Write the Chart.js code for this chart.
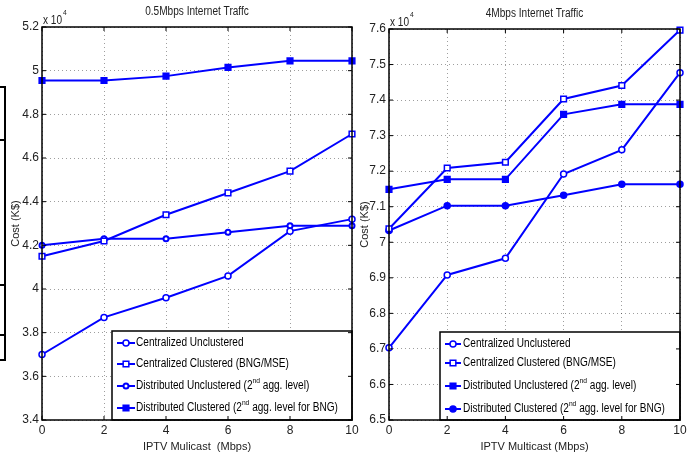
<!DOCTYPE html>
<html>
<head>
<meta charset="utf-8">
<script src="https://cdn.jsdelivr.net/npm/chart.js@4.4.1/dist/chart.umd.min.js"></script>
<style>
    html, body { margin: 0; padding: 0; background: #fff; }
    #wrap { position: relative; width: 696px; height: 457px; overflow: hidden; }
    #lowChart { position: absolute; left: 0; top: 0; }
    #highChart { position: absolute; left: 356px; top: 0; }
    .edge { position: absolute; background: #000; }
</style>
</head>
<body>
<div id="wrap">
    <!-- piece of a neighbouring figure cut off at the left edge -->
    <div class="edge" style="left:4px;top:86px;width:2px;height:275px"></div>
    <div class="edge" style="left:0;top:86px;width:6px;height:2px"></div>
    <div class="edge" style="left:0;top:139px;width:6px;height:2px"></div>
    <div class="edge" style="left:0;top:284px;width:6px;height:2px"></div>
    <div class="edge" style="left:0;top:334px;width:6px;height:2px"></div>
    <div class="edge" style="left:0;top:359px;width:6px;height:2px"></div>
    <canvas id="lowChart" width="372" height="457"></canvas>
    <canvas id="highChart" width="340" height="457"></canvas>
</div>
<script>
const FONT = "'Liberation Sans', Arial, sans-serif";
const BLUE = "#0000ff";
const NARROW = 0.84;   // squeeze for the hand drawn texts

// IPTV multicast rate (Mbps)
const multicast = [0, 2, 4, 6, 8, 10];
const xTicks = [0, 2, 4, 6, 8, 10];

const seriesNames = [
    "Centralized Unclustered",
    "Centralized Clustered (BNG/MSE)",
    "Distributed Unclustered (2^nd agg. level)",
    "Distributed Clustered (2^nd agg. level for BNG)"
];

// cost (K$, x 10^4) - 0.5Mbps internet traffic
const lowCentUnclustered = [3.70, 3.87, 3.96, 4.06, 4.265, 4.32];
const lowCentClustered = [4.15, 4.22, 4.34, 4.44, 4.54, 4.71];
const lowDistUnclustered = [4.20, 4.23, 4.23, 4.26, 4.29, 4.29];
const lowDistClustered = [4.955, 4.955, 4.975, 5.015, 5.045, 5.045];
const lowYTicks = [3.4, 3.6, 3.8, 4, 4.2, 4.4, 4.6, 4.8, 5, 5.2];

// cost (K$, x 10^4) - 4Mbps internet traffic
const highCentUnclustered = [6.703, 6.908, 6.955, 7.192, 7.26, 7.477];
const highCentClustered = [7.038, 7.209, 7.225, 7.403, 7.441, 7.597];
const highDistUnclustered = [7.149, 7.177, 7.177, 7.36, 7.388, 7.388];
const highDistClustered = [7.033, 7.103, 7.103, 7.132, 7.163, 7.163];
const highYTicks = [6.5, 6.6, 6.7, 6.8, 6.9, 7, 7.1, 7.2, 7.3, 7.4, 7.5, 7.6];

function toPoints(values) {
    return values.map((v, i) => ({ x: multicast[i], y: v }));
}

function series(label, values, style, filled, radius, width) {
    return {
        label: label,
        data: toPoints(values),
        borderColor: BLUE,
        backgroundColor: filled ? BLUE : "#fff",
        borderWidth: 2,
        pointStyle: style,
        pointRadius: radius,
        pointBorderWidth: width,
        pointHoverRadius: radius,
        tension: 0,
        clip: false
    };
}

function narrowText(ctx, text, x, y) {
    ctx.save();
    ctx.translate(x, y);
    ctx.scale(NARROW, 1);
    ctx.fillText(text, 0, 0);
    ctx.restore();
    return ctx.measureText(text).width * NARROW;
}

// matlab-like frame, inward ticks, title, exponent label and legend box
const matlabFrame = {
    id: "matlabFrame",
    afterDraw(chart, args, opts) {
        const ctx = chart.ctx;
        const a = chart.chartArea;
        const xs = chart.scales.x;
        const ys = chart.scales.y;

        ctx.save();

        // legend
        const lg = opts.legend;
        const bx = a.right - lg.width;
        const by = a.bottom - lg.height;
        ctx.fillStyle = "#fff";
        ctx.fillRect(bx, by, lg.width, lg.height);
        ctx.strokeStyle = "#000";
        ctx.lineWidth = 1.5;
        ctx.strokeRect(bx, by, lg.width, lg.height);

        chart.data.datasets.forEach((ds, i) => {
            const y = by + lg.rows[i];
            ctx.strokeStyle = BLUE;
            ctx.lineWidth = 2;
            ctx.beginPath();
            ctx.moveTo(bx + lg.lineStart, y);
            ctx.lineTo(bx + lg.lineEnd, y);
            ctx.stroke();
            ctx.fillStyle = ds.backgroundColor;
            ctx.lineWidth = ds.pointBorderWidth;
            Chart.helpers.drawPoint(ctx, {
                pointStyle: ds.pointStyle,
                radius: ds.pointRadius,
                borderWidth: ds.pointBorderWidth,
                rotation: 0
            }, bx + (lg.lineStart + lg.lineEnd) / 2, y);

            let tx = bx + lg.textX;
            ctx.fillStyle = "#000";
            ctx.textBaseline = "middle";
            ctx.textAlign = "left";
            ds.label.split(/\^(\w+)/).forEach((part, k) => {
                if (k % 2 === 1) {
                    ctx.font = "8px " + FONT;
                    tx += narrowText(ctx, part, tx, y - 5);
                } else {
                    ctx.font = "12px " + FONT;
                    tx += narrowText(ctx, part, tx, y);
                }
            });
        });

        // inward tick marks
        ctx.strokeStyle = "#000";
        ctx.lineWidth = 1;
        ctx.beginPath();
        xs.ticks.forEach(t => {
            const px = xs.getPixelForValue(t.value);
            ctx.moveTo(px, a.bottom);
            ctx.lineTo(px, a.bottom - 4);
            ctx.moveTo(px, a.top);
            ctx.lineTo(px, a.top + 4);
        });
        ys.ticks.forEach(t => {
            const py = ys.getPixelForValue(t.value);
            ctx.moveTo(a.left, py);
            ctx.lineTo(a.left + 4, py);
            ctx.moveTo(a.right, py);
            ctx.lineTo(a.right - 4, py);
        });
        ctx.stroke();

        // frame
        ctx.lineWidth = 1.5;
        ctx.strokeRect(a.left, a.top, a.right - a.left, a.bottom - a.top);

        // title over the plot area
        ctx.fillStyle = "#222";
        ctx.textBaseline = "middle";
        ctx.font = "12px " + FONT;
        const tw = ctx.measureText(opts.title).width * NARROW;
        narrowText(ctx, opts.title, (a.left + a.right) / 2 - tw / 2, opts.titleY);

        // x 10^4
        ctx.textAlign = "left";
        ctx.textBaseline = "alphabetic";
        ctx.font = "12px " + FONT;
        const w = narrowText(ctx, "x 10", a.left + 1, a.top - 3);
        ctx.font = "8px " + FONT;
        narrowText(ctx, "4", a.left + 2 + w, a.top - 12);

        ctx.restore();
    }
};

function makeChart(id, title, xTitle, datasets, yTicks, cfg) {
    return new Chart(document.getElementById(id), {
        type: "line",
        data: { datasets: datasets },
        plugins: [matlabFrame],
        options: {
            responsive: false,
            animation: false,
            layout: { padding: { left: 0, right: cfg.padRight, top: cfg.padTop, bottom: 0 } },
            plugins: {
                legend: { display: false },
                tooltip: { enabled: false },
                title: { display: false },
                matlabFrame: { legend: cfg.legend, title: title, titleY: cfg.titleY }
            },
            scales: {
                x: {
                    type: "linear",
                    min: 0,
                    max: 10,
                    afterBuildTicks: s => { s.ticks = xTicks.map(v => ({ value: v })); },
                    afterFit: s => { s.height = 37; },
                    ticks: {
                        color: "#222",
                        padding: 3,
                        font: { family: FONT, size: 12 },
                        callback: v => String(v)
                    },
                    grid: { color: "rgba(0,0,0,0.38)", drawTicks: false },
                    border: { display: false, dash: [1, 3] },
                    title: {
                        display: true,
                        text: xTitle,
                        color: "#222",
                        font: { family: FONT, size: 11 },
                        padding: { top: 0, bottom: 3 }
                    }
                },
                y: {
                    type: "linear",
                    min: yTicks[0],
                    max: yTicks[yTicks.length - 1],
                    afterBuildTicks: s => { s.ticks = yTicks.map(v => ({ value: v })); },
                    afterFit: s => { s.width = cfg.yWidth; },
                    ticks: {
                        color: "#222",
                        padding: 3,
                        font: { family: FONT, size: 12 },
                        callback: v => String(v)
                    },
                    grid: { color: "rgba(0,0,0,0.38)", drawTicks: false },
                    border: { display: false, dash: [1, 3] },
                    title: {
                        display: true,
                        text: "Cost (K$)",
                        color: "#222",
                        font: { family: FONT, size: 11 },
                        padding: { top: cfg.yTitlePad, bottom: 0 }
                    }
                }
            }
        }
    });
}

makeChart("lowChart", "0.5Mbps Internet Traffc", "IPTV Mulicast  (Mbps)", [
    series(seriesNames[0], lowCentUnclustered, "circle", false, 3, 1.5),
    series(seriesNames[1], lowCentClustered, "rect", false, 4, 1.5),
    series(seriesNames[2], lowDistUnclustered, "circle", false, 2.5, 2),
    series(seriesNames[3], lowDistClustered, "rect", true, 4, 1.5)
], lowYTicks, {
    padRight: 20, padTop: 27, titleY: 12, yWidth: 42, yTitlePad: 9,
    legend: { width: 240, height: 89, rows: [12, 33, 55, 77], lineStart: 5, lineEnd: 23, textX: 24 }
});

makeChart("highChart", "4Mbps Internet Traffic", "IPTV Multicast (Mbps)", [
    series(seriesNames[0], highCentUnclustered, "circle", false, 3, 1.5),
    series(seriesNames[1], highCentClustered, "rect", false, 4, 1.5),
    series(seriesNames[2], highDistUnclustered, "rect", true, 4, 1.5),
    series(seriesNames[3], highDistClustered, "circle", true, 3, 1.5)
], highYTicks, {
    padRight: 16, padTop: 29, titleY: 14, yWidth: 33, yTitlePad: 2,
    legend: { width: 240, height: 88, rows: [12, 31, 54, 77], lineStart: 5, lineEnd: 21, textX: 23 }
});
</script>
</body>
</html>
